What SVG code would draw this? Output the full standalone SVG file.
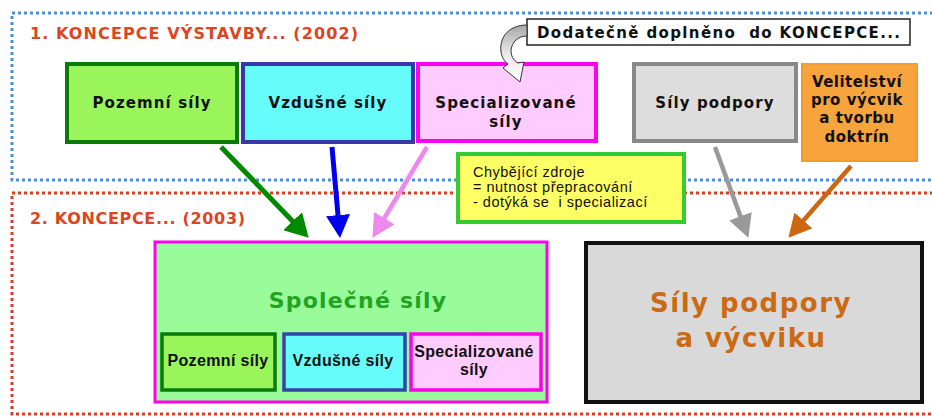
<svg xmlns="http://www.w3.org/2000/svg" width="932" height="417" viewBox="0 0 932 417">
<defs>
<style>
.frame{fill:none;stroke-width:3;stroke-dasharray:3 3}
.title{font-family:"DejaVu Sans","Liberation Sans",sans-serif;font-weight:bold;font-size:16px;fill:#dd4422}
.tb{font-family:"DejaVu Sans","Liberation Sans",sans-serif;font-weight:bold;font-size:15px;fill:#111;letter-spacing:1.1px;text-anchor:middle}
.sb{font-family:"Liberation Sans",Arial,sans-serif;font-weight:bold;font-size:16px;fill:#111;letter-spacing:0.35px;text-anchor:middle}
.note{font-family:"Liberation Sans",Arial,sans-serif;font-size:14.5px;fill:#111;letter-spacing:0.5px}
.big{font-family:"DejaVu Sans","Liberation Sans",sans-serif;font-weight:bold;text-anchor:middle}
.conn line{fill:none}
</style>
<linearGradient id="curv" x1="0" y1="0" x2="0" y2="1">
<stop offset="0" stop-color="#a8a8a8"/>
<stop offset="0.5" stop-color="#e8e8e8"/>
<stop offset="1" stop-color="#ffffff"/>
</linearGradient>
<marker id="hg" markerUnits="userSpaceOnUse" markerWidth="23" markerHeight="26" viewBox="0 0 23 26" refX="1" refY="13" orient="auto"><path d="M0,0 L23,13 L0,26 Z" fill="#008a00"/></marker>
<marker id="hb" markerUnits="userSpaceOnUse" markerWidth="23" markerHeight="24" viewBox="0 0 23 24" refX="1" refY="12" orient="auto"><path d="M0,0 L23,12 L0,24 Z" fill="#0000ee"/></marker>
<marker id="hp" markerUnits="userSpaceOnUse" markerWidth="23" markerHeight="24" viewBox="0 0 23 24" refX="1" refY="12" orient="auto"><path d="M0,0 L23,12 L0,24 Z" fill="#ee88ee"/></marker>
<marker id="hgr" markerUnits="userSpaceOnUse" markerWidth="23" markerHeight="24" viewBox="0 0 23 24" refX="1" refY="12" orient="auto"><path d="M0,0 L23,12 L0,24 Z" fill="#999999"/></marker>
<marker id="ho" markerUnits="userSpaceOnUse" markerWidth="23" markerHeight="24" viewBox="0 0 23 24" refX="1" refY="12" orient="auto"><path d="M0,0 L23,12 L0,24 Z" fill="#cc6611"/></marker>
</defs>
<rect width="932" height="417" fill="#ffffff"/>

<g id="frame-2002">
<rect class="frame" x="12" y="13" width="940" height="167" stroke="#4a8ede"/>
<text class="title" x="30" y="39" textLength="328">1. KONCEPCE VÝSTAVBY... (2002)</text>
</g>
<g id="frame-2003">
<rect class="frame" x="12" y="193" width="940" height="221" stroke="#dd3b24"/>
<text class="title" x="30" y="224" textLength="215">2. KONCEPCE... (2003)</text>
</g>

<g id="pozemni-top">
<rect x="67" y="64" width="170" height="78" fill="#99f55a" stroke="#0a7a0a" stroke-width="4"/>
<text class="tb" x="152" y="108">Pozemní síly</text>
</g>
<g id="vzdusne-top">
<rect x="243" y="64" width="170" height="78" fill="#66fcfc" stroke="#3838a8" stroke-width="4"/>
<text class="tb" x="328" y="108">Vzdušné síly</text>
</g>
<g id="special-top">
<rect x="418" y="64" width="178" height="77" fill="#ffccff" stroke="#ff00ee" stroke-width="4"/>
<text class="tb" x="506" y="108">Specializované</text>
<text class="tb" x="506" y="127">síly</text>
</g>
<g id="podpory-top">
<rect x="634" y="64" width="162" height="77" fill="#dddddd" stroke="#888888" stroke-width="4"/>
<text class="tb" x="715" y="108">Síly podpory</text>
</g>
<g id="velitelstvi">
<rect x="802" y="64" width="115" height="97" fill="#f8a43c" stroke="#f39a2c" stroke-width="2"/>
<text class="tb" x="857" y="87" style="letter-spacing:0.5px">Velitelství</text>
<text class="tb" x="857" y="105" style="letter-spacing:0.5px">pro výcvik</text>
<text class="tb" x="857" y="123" style="letter-spacing:0.5px">a tvorbu</text>
<text class="tb" x="857" y="142" style="letter-spacing:0.5px">doktrín</text>
</g>

<g id="dodatecne">
<rect x="527" y="19" width="383" height="26" fill="#ffffff" stroke="#222222" stroke-width="1.5"/>
<text class="tb" x="537" y="38" xml:space="preserve" style="text-anchor:start;letter-spacing:0" textLength="363">Dodatečně doplněno  do KONCEPCE...</text>
<path d="M527,25 C510,25 499,36 501,52 C502,58 505,62 508,64 L503,68 L520,82 L524,62 L518,63 C513,60 511,56 511,50 C512,42 518,36 527,36 Z" fill="url(#curv)" stroke="#333333" stroke-width="1"/>
</g>

<g id="note">
<rect x="458" y="154" width="226" height="68" fill="#ffff66" stroke="#33cc33" stroke-width="4"/>
<text class="note" x="473" y="177">Chybějící zdroje</text>
<text class="note" x="473" y="192">= nutnost přepracování</text>
<text class="note" x="473" y="207" xml:space="preserve">- dotýká se  i specializací</text>
</g>

<g id="spolecne">
<rect x="155" y="242" width="392" height="160" fill="#99fb99" stroke="#ff00ee" stroke-width="3"/>
<text class="big" x="358" y="308" font-size="22" fill="#22a322" style="letter-spacing:1.2px">Společné síly</text>
</g>
<g id="pozemni-bottom">
<rect x="162" y="334" width="113" height="56" fill="#99f55a" stroke="#0a7a0a" stroke-width="3.5"/>
<text class="sb" x="218" y="366">Pozemní síly</text>
</g>
<g id="vzdusne-bottom">
<rect x="284" y="334" width="121" height="56" fill="#66fcfc" stroke="#3344aa" stroke-width="3.5"/>
<text class="sb" x="343" y="366">Vzdušné síly</text>
</g>
<g id="special-bottom">
<rect x="411" y="334" width="130" height="56" fill="#ffccff" stroke="#ff00ee" stroke-width="3.5"/>
<text class="sb" x="474" y="357">Specializované</text>
<text class="sb" x="474" y="375">síly</text>
</g>

<g id="podpory-vycviku">
<rect x="586" y="243" width="336" height="159" fill="#d9d9d9" stroke="#111111" stroke-width="4"/>
<text class="big" x="751" y="312" font-size="26" fill="#cc6a14" style="letter-spacing:1.5px">Síly podpory</text>
<text class="big" x="751" y="347" font-size="26" fill="#cc6a14" style="letter-spacing:1.5px">a výcviku</text>
</g>

<g id="connectors" class="conn">
<line x1="221" y1="147" x2="293.4" y2="221.9" stroke="#008a00" stroke-width="5" marker-end="url(#hg)"/>
<line x1="332" y1="147" x2="338.1" y2="216.1" stroke="#0000ee" stroke-width="5" marker-end="url(#hb)"/>
<line x1="427" y1="147" x2="383.8" y2="219" stroke="#ee88ee" stroke-width="4.5" marker-end="url(#hp)"/>
<line x1="715" y1="147" x2="740.8" y2="217.2" stroke="#999999" stroke-width="4.5" marker-end="url(#hgr)"/>
<line x1="851" y1="166" x2="802.8" y2="221.2" stroke="#cc6611" stroke-width="4.5" marker-end="url(#ho)"/>
</g>
</svg>
